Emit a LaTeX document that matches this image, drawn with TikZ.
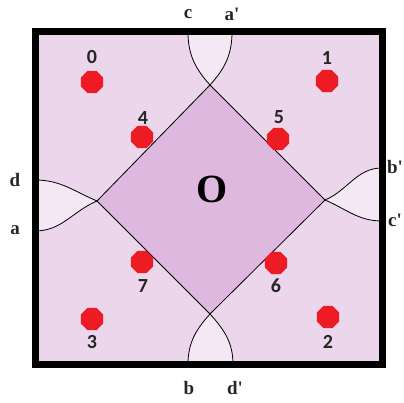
\documentclass[tikz,border=0pt]{standalone}
\usepackage{fontspec}
\setmainfont{Liberation Serif}
\newfontfamily\numfont{Carlito}
\usetikzlibrary{shapes.geometric}
\definecolor{outerfill}{HTML}{ECD6EC}
\definecolor{diamfill}{HTML}{DEB8DF}
\definecolor{lensfill}{HTML}{F5E8F5}
\definecolor{dotred}{HTML}{ED1C24}
\tikzset{
  dotnode/.style={regular polygon, regular polygon sides=8, fill=dotred, draw=none, minimum size=24pt, inner sep=0pt},
  numlab/.style={font=\numfont\bfseries\fontsize{20}{20}\selectfont, text=black!85, inner sep=0pt},
  letlab/.style={font=\bfseries\fontsize{19}{19}\selectfont, text=black!85, inner sep=0pt},
  thinline/.style={draw=black, line width=0.8pt},
}
\begin{document}
\begin{tikzpicture}[x=1pt,y=1pt]
\useasboundingbox (0,0) rectangle (404,403);
% outer square
\fill[outerfill] (35,38.5) rectangle (382,371);
% diamond vertices
\coordinate (T) at (210,318);
\coordinate (R) at (325,203);
\coordinate (B) at (210,89);
\coordinate (L) at (97,202);
% lens end points
\coordinate (c) at (188,371);
\coordinate (ap) at (232,371);
\coordinate (bb) at (188,38.5);
\coordinate (dp) at (233,38.5);
\coordinate (d) at (35,223);
\coordinate (a) at (35,172);
\coordinate (bp) at (382,235);
\coordinate (cp) at (382,182);
% diamond fill
\fill[diamfill] (T) -- (R) -- (B) -- (L) -- cycle;
% lenses
\fill[lensfill] (c) to[out=-90,in=132] (T) to[out=48,in=-90] (ap) -- cycle;
\fill[lensfill] (bb) to[out=90,in=-132] (B) to[out=-48,in=90] (dp) -- cycle;
\fill[lensfill] (d) to[out=0,in=157] (L) to[out=-157,in=0] (a) -- cycle;
\fill[lensfill] (bp) to[out=180,in=23] (R) to[out=-23,in=180] (cp) -- cycle;
% lines
\draw[thinline] (T) -- (R) -- (B) -- (L) -- cycle;
\draw[thinline] (c) to[out=-90,in=132] (T) to[out=48,in=-90] (ap);
\draw[thinline] (bb) to[out=90,in=-132] (B) to[out=-48,in=90] (dp);
\draw[thinline] (d) to[out=0,in=157] (L) to[out=-157,in=0] (a);
\draw[thinline] (bp) to[out=180,in=23] (R) to[out=-23,in=180] (cp);
% border
\draw[line width=7pt] (35,38.5) rectangle (382,371);
% dots
\node[dotnode] (p0) at (92,321) {};
\node[dotnode] (p1) at (327,322) {};
\node[dotnode] (p4) at (142,266) {};
\node[dotnode] (p5) at (278,264) {};
\node[dotnode] (p7) at (142,141) {};
\node[dotnode] (p6) at (276,140) {};
\node[dotnode] (p3) at (92,84) {};
\node[dotnode] (p2) at (328,86) {};
% number labels
\node[numlab] (l0) at (92,346) {0};
\node[numlab] (l1) at (327,345) {1};
\node[numlab] (l4) at (143,285) {4};
\node[numlab] (l5) at (279,286) {5};
\node[numlab] (l7) at (143,117) {7};
\node[numlab] (l6) at (276,117) {6};
\node[numlab] (l3) at (92,61) {3};
\node[numlab] (l2) at (328,61) {2};
% letter labels
\node[letlab] (tc) at (188,389) {c};
\node[letlab] (tap) at (232,389) {a\textquotesingle};
\node[letlab] (td) at (15,223) {d};
\node[letlab] (ta) at (15,173) {a};
\node[letlab] (tbp) at (395,236) {b\textquotesingle};
\node[letlab] (tcp) at (395,183) {c\textquotesingle};
\node[letlab] (tb) at (189,15) {b};
\node[letlab] (tdp) at (235,15) {d\textquotesingle};
\node[font=\bfseries\fontsize{40}{40}\selectfont, inner sep=0pt] (O) at (212,214) {O};
\end{tikzpicture}
\end{document}
